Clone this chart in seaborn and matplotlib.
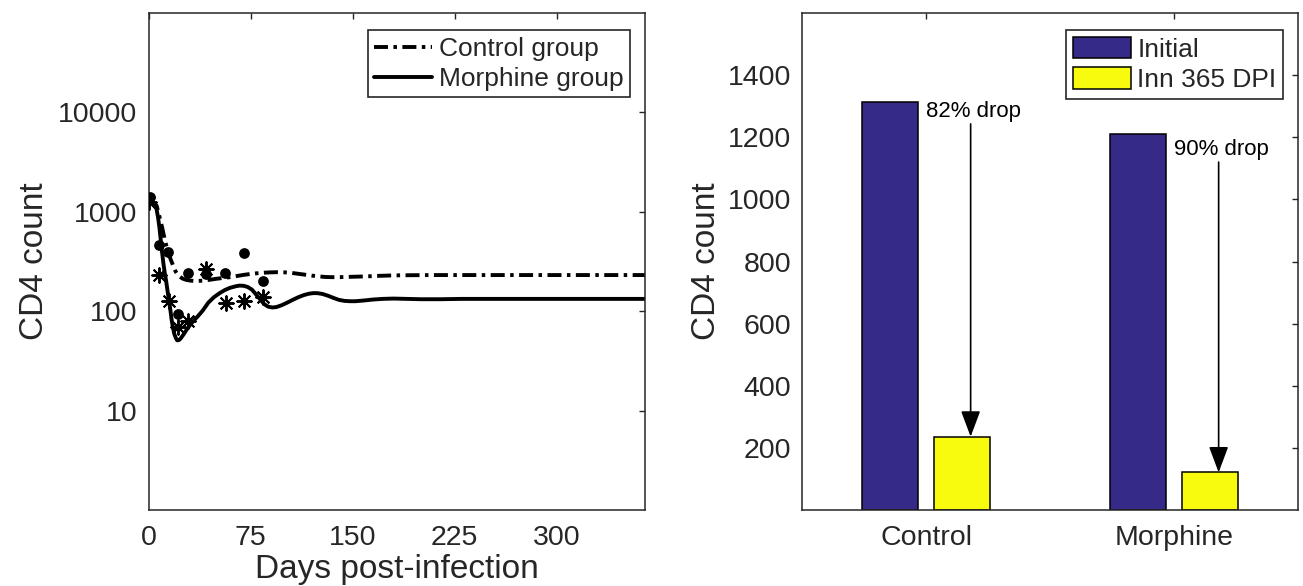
import numpy as np
import pandas as pd
import matplotlib
matplotlib.use("Agg")
import matplotlib.pyplot as plt
from matplotlib.ticker import NullLocator, FixedLocator, FixedFormatter
import seaborn as sns

# ---------------- data ----------------
# model curves (day, CD4 count)
control_days = [0, 2, 4, 6, 8, 10, 12, 14, 16, 18, 20, 22, 25, 28, 31, 35, 40, 45, 50, 55,
                60, 65, 70, 75, 80, 85, 90, 95, 100, 105, 110, 115, 120, 125, 130, 135,
                140, 145, 150, 160, 170, 180, 190, 210, 240, 270, 300, 330, 365]
control_curve = [1250, 1250, 1230, 1150, 900, 700, 520, 410, 340, 290, 250, 228, 213, 206,
                 203, 201, 203, 207, 212, 216, 220, 226, 232, 237, 241, 244, 246, 247, 246,
                 243, 238, 233, 228, 224, 221, 220, 220, 221, 222, 224, 227, 229, 230, 231,
                 231, 231, 231, 231, 231]

morphine_days = [0, 2, 4, 5, 6, 7, 8, 9, 10, 11, 12, 13, 14, 15, 16, 17, 18, 19, 20, 21, 22,
                 23, 24, 26, 28, 30, 33, 36, 40, 44, 48, 52, 56, 60, 64, 67, 70, 73, 76, 79,
                 82, 85, 88, 91, 94, 98, 102, 106, 110, 114, 118, 121, 124, 128, 132, 136,
                 140, 144, 148, 152, 158, 165, 172, 180, 190, 200, 215, 230, 260, 300, 330, 365]
morphine_curve = [1250, 1250, 1230, 1180, 1050, 880, 700, 520, 390, 300, 240, 200, 160, 130,
                  105, 82, 68, 59, 54, 51, 51, 52, 54, 59, 65, 71, 80, 88, 102, 122, 138, 151,
                  163, 172, 178, 181, 180, 175, 165, 148, 132, 118, 111, 109, 110, 115, 122,
                  130, 138, 145, 150, 152, 152, 149, 143, 136, 130, 127, 126, 126, 128, 131,
                  133, 134, 133, 132, 132, 133, 133, 133, 133, 133]

# observed data
control_obs_days = [1, 8, 14, 22, 29, 42, 56, 70, 84]
control_obs = [1400, 460, 390, 93, 242, 237, 242, 389, 203]
morphine_obs_days = [0, 8, 15, 22, 29, 42, 57, 70, 84]
morphine_obs = [1250, 232, 126, 69, 80, 268, 121, 126, 138]

# bar chart
groups = ["Control", "Morphine"]
initial_counts = [1315, 1212]
final_counts = [236, 121]
series_names = ["Initial", "Inn 365 DPI"]

# ---------------- style ----------------
sns.set_style("white")
plt.rcParams["font.family"] = ["Liberation Sans", "DejaVu Sans"]
GRAY = "#262626"
NAVY = "#352A87"
YELLOW = "#F9FB0E"

fig = plt.figure(figsize=(13.03, 5.86), dpi=100)
ax1 = fig.add_axes([148.5 / 1303, 76 / 586, 496.5 / 1303, 497 / 586])
ax2 = fig.add_axes([802 / 1303, 76 / 586, 496 / 1303, 497 / 586])

def style_axes(ax):
    for s in ax.spines.values():
        s.set_color(GRAY)
        s.set_linewidth(1.1)
        s.set_visible(True)
    ax.tick_params(axis="both", which="major", direction="in", length=4.5, width=1.0,
                   colors=GRAY, labelsize=20.5, top=True, right=True,
                   labeltop=False, labelright=False)
    ax.tick_params(axis="x", pad=10.5)
    ax.tick_params(axis="y", pad=8)

# ---------------- left panel ----------------
dash_dot = (0, (3.6, 1.4, 0.9, 1.4))
sns.lineplot(x=control_days, y=control_curve, ax=ax1, color="black", lw=2.8,
             linestyle=dash_dot, label="Control group", estimator=None, sort=False)
sns.lineplot(x=morphine_days, y=morphine_curve, ax=ax1, color="black", lw=2.8,
             linestyle="-", label="Morphine group", estimator=None, sort=False)
sns.scatterplot(x=control_obs_days, y=control_obs, ax=ax1, color="black", marker="o",
                s=60, linewidth=0, zorder=3, legend=False)
sns.scatterplot(x=morphine_obs_days, y=morphine_obs, ax=ax1, color="black",
                marker=(8, 2, 0), s=110, linewidth=1.4, edgecolor="black", zorder=3,
                legend=False)
ax1.set_yscale("log")
ax1.set_ylim(1, 1e5)
ax1.set_xlim(0, 365)
ax1.set_xticks([0, 75, 150, 225, 300])
ax1.yaxis.set_major_locator(FixedLocator([10, 100, 1000, 10000]))
ax1.yaxis.set_major_formatter(FixedFormatter(["10", "100", "1000", "10000"]))
ax1.yaxis.set_minor_locator(NullLocator())
style_axes(ax1)
ax1.set_xlabel("Days post-infection", fontsize=24, color=GRAY, labelpad=2.5)
ax1.set_ylabel("CD4 count", fontsize=24, color=GRAY, labelpad=6)
leg1 = ax1.legend(loc="upper right", bbox_to_anchor=(0.970, 0.965), borderaxespad=0,
                  fontsize=19, frameon=True, fancybox=False, framealpha=1,
                  edgecolor=GRAY, borderpad=0.25, labelspacing=0.22,
                  handlelength=2.2, handletextpad=0.25)
leg1.get_frame().set_linewidth(1.2)

# ---------------- right panel ----------------
df = pd.DataFrame({
    "group": groups * 2,
    "series": [series_names[0]] * len(groups) + [series_names[1]] * len(groups),
    "count": initial_counts + final_counts,
})
sns.barplot(data=df, x="group", y="count", hue="series", hue_order=series_names,
            palette=[NAVY, YELLOW], saturation=1, width=0.58, gap=0.22,
            edgecolor="black", linewidth=1.1, ax=ax2, errorbar=None)
ax2.set_xlim(-0.5, 1.5)
ax2.set_ylim(0, 1600)
ax2.set_yticks([200, 400, 600, 800, 1000, 1200, 1400])
style_axes(ax2)
ax2.set_xlabel("")
ax2.set_ylabel("CD4 count", fontsize=24, color=GRAY, labelpad=4)
handles, labels = ax2.get_legend_handles_labels()
leg2 = ax2.legend(handles, labels, loc="upper right", bbox_to_anchor=(0.970, 0.965),
                  borderaxespad=0, fontsize=19, frameon=True, fancybox=False,
                  framealpha=1, edgecolor=GRAY, borderpad=0.25, labelspacing=0.22,
                  handlelength=2.2, handleheight=0.85, handletextpad=0.25)
leg2.get_frame().set_linewidth(1.2)

# drop annotations
text_offsets = [32, 53]     # below top of initial bar
arrow_gaps = [40, 39]       # between text and arrow start
for i, (a, b) in enumerate(zip(initial_counts, final_counts)):
    pct = round(100 * (1 - b / a))
    ty = a - text_offsets[i]
    ax2.text(i + 0.0, ty, f"{pct}% drop", ha="left", va="center", fontsize=16,
             color="black")
    ax2.annotate("", xy=(i + 0.18, b), xytext=(i + 0.18, ty - arrow_gaps[i]),
                 arrowprops=dict(arrowstyle="-|>,head_length=0.8,head_width=0.3",
                                 color="black", lw=1.2, shrinkA=0, shrinkB=0,
                                 mutation_scale=20))

fig.savefig("out.png", dpi=100)
